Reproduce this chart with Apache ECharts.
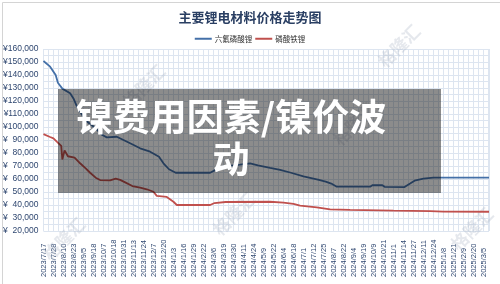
<!DOCTYPE html>
<html>
<head>
<meta charset="utf-8">
<script src="https://cdn.jsdelivr.net/npm/echarts@6/dist/echarts.min.js"></script>
<style>
  html, body { margin: 0; padding: 0; background: #fff; }
  #chart { width: 500px; height: 284px; }
</style>
</head>
<body>
<div id="chart"></div>
<script>
// tick labels, one every 9 trading days
const dates = ['2023/7/17', '2023/7/28', '2023/8/10', '2023/8/23', '2023/9/5', '2023/9/18', '2023/10/7',
    '2023/10/18', '2023/10/31', '2023/11/13', '2023/11/24', '2023/12/7', '2023/12/20', '2024/1/3',
    '2024/1/16', '2024/1/29', '2024/2/22', '2024/3/6', '2024/3/19', '2024/3/30', '2024/4/11',
    '2024/4/24', '2024/5/9', '2024/5/22', '2024/6/4', '2024/6/18', '2024/7/1', '2024/7/12',
    '2024/7/25', '2024/8/7', '2024/8/22', '2024/9/4', '2024/9/19', '2024/10/9', '2024/10/21',
    '2024/11/1', '2024/11/14', '2024/11/27', '2024/12/11', '2024/12/24', '2025/1/8', '2025/1/21',
    '2025/2/9', '2025/2/20', '2025/3/5'];
const seriesNames = ['六氟磷酸锂', '磷酸铁锂'];

// [trading day index, price]
const lipf6 = [[0, 150800], [6, 146400], [11, 140000], [13, 134000], [17, 129500], [24, 126000],
    [27, 122000], [30, 116000], [38, 105000], [47, 99000], [53, 93800], [57, 92000], [66, 92500],
    [72, 90000], [78, 87500], [87, 83600], [96, 81000], [104, 77100], [108, 72100], [113, 67500],
    [119, 64800], [150, 64800], [155, 67000], [161, 69500], [177, 71000], [186, 72000], [193, 70500],
    [204, 68500], [213, 67000], [222, 65000], [234, 62000], [247, 59500], [254, 58000], [259, 56500],
    [264, 54100], [294, 54100], [296, 55200], [305, 55200], [307, 54000], [325, 53800], [330, 56500],
    [334, 58700], [342, 60300], [351, 61000], [401, 61000]];
const lfp = [[0, 94500], [6, 92300], [9, 91300], [12, 88700], [16, 85500], [17, 75000], [19, 82000],
    [20, 81500], [22, 77500], [28, 76500], [33, 72100], [38, 68200], [42, 64800], [47, 61000],
    [51, 59200], [60, 59000], [65, 60300], [69, 59300], [74, 57200], [80, 54600], [87, 53300],
    [93, 52100], [99, 50200], [102, 47000], [111, 46200], [117, 42500], [120, 40000], [150, 40000],
    [154, 41500], [164, 42300], [204, 42500], [216, 41800], [225, 40800], [231, 39500], [246, 38200],
    [258, 36700], [276, 36200], [315, 35600], [348, 35300], [360, 34900], [401, 34800]];

const gridColor = '#dde5f0';
const labelColor = '#2f4770';

function watermark(x, y) {
    return {
        type: 'text', left: x, top: y, rotation: Math.PI / 4, z: 1, silent: true,
        style: { text: '格隆汇', fill: 'rgba(170,180,195,0.3)', font: 'bold 17px "Noto Sans CJK SC"' }
    };
}

let option = {
    animation: false,
    backgroundColor: '#fff',
    title: {
        text: '主要锂电材料价格走势图',
        left: 'center',
        top: 6,
        textStyle: { fontSize: 13, fontWeight: 'bold', color: '#2a3f63', fontFamily: '"Noto Sans CJK SC"' }
    },
    legend: {
        data: seriesNames,
        top: 30,
        left: 'center',
        icon: 'rect',
        itemWidth: 17,
        itemHeight: 2,
        itemGap: 3,
        textStyle: { fontSize: 7.5, color: '#333', fontFamily: '"Noto Sans CJK SC"', padding: [0, 0, 0, -2] }
    },
    grid: { left: 43, right: 11, top: 49, bottom: 53, containLabel: false },
    xAxis: {
        type: 'value',
        min: 0,
        max: 401,
        interval: 9,
        axisLine: { show: false },
        axisTick: { show: false },
        splitLine: { show: true, lineStyle: { color: gridColor, width: 1 } },
        minorTick: { show: false, splitNumber: 2 },
        minorSplitLine: { show: true, lineStyle: { color: gridColor, width: 1 } },
        axisLabel: {
            rotate: 90,
            align: 'left',
            margin: 46,
            fontSize: 7.5,
            color: labelColor,
            fontFamily: 'Liberation Sans',
            showMaxLabel: false,
            formatter: (v) => (v % 9 === 0 && dates[v / 9]) ? dates[v / 9] : ''
        }
    },
    yAxis: {
        type: 'value',
        min: 20000,
        max: 160000,
        interval: 10000,
        axisLine: { show: false },
        axisTick: { show: false },
        splitLine: { show: true, lineStyle: { color: gridColor, width: 1 } },
        minorTick: { show: false, splitNumber: 2 },
        minorSplitLine: { show: true, lineStyle: { color: gridColor, width: 1 } },
        axisLabel: {
            margin: 5,
            fontSize: 8.5,
            color: labelColor,
            fontFamily: 'Liberation Sans',
            formatter: (v) => '¥' + (v < 100000 ? '  ' : '') + v.toLocaleString('en-US')
        }
    },
    series: [
        {
            name: seriesNames[0], type: 'line', data: lipf6, showSymbol: false, symbol: 'none',
            color: '#4470a8', lineStyle: { width: 1.8 }
        },
        {
            name: seriesNames[1], type: 'line', data: lfp, showSymbol: false, symbol: 'none',
            color: '#c0504d', lineStyle: { width: 1.8 }
        }
    ],
    graphic: [
        watermark(120, 62), watermark(375, 22), watermark(210, 190), watermark(40, 215),
        watermark(448, 205), watermark(330, 100),
        {
            type: 'rect', left: 58, top: 89, z: 100, silent: true,
            shape: { width: 383, height: 104 },
            style: { fill: 'rgba(0,0,0,0.45)' }
        },
        {
            type: 'text', z: 101, silent: true,
            x: 231, y: 96,
            style: {
                text: '镍费用因素/镍价波动',
                width: 336,
                overflow: 'break',
                align: 'center',
                verticalAlign: 'top',
                lineHeight: 42,
                fill: '#fff',
                font: 'bold 37px "Noto Sans CJK SC"'
            }
        },
        {
            type: 'rect', left: 0, top: 0, z: 0, silent: true,
            shape: { width: 499, height: 283 },
            style: { fill: 'none', stroke: '#d4d4d4', lineWidth: 1 }
        }
    ]
};

let myChart = echarts.init(document.getElementById('chart'));
myChart.setOption(option);
</script>
</body>
</html>
